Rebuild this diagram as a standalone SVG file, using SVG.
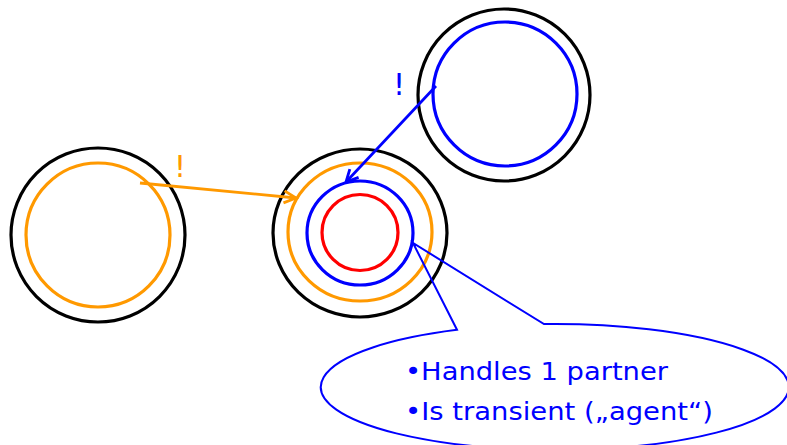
<svg xmlns="http://www.w3.org/2000/svg" width="787" height="445" viewBox="0 0 787 445">
<style>
.c{fill:none;stroke-width:3.2}
.k{stroke:#000}
.o{stroke:#FF9900}
.b{stroke:#0000FF}
.r{stroke:#FF0000}
.t{font-family:"DejaVu Sans",Tahoma,sans-serif;fill:#0000FF}
</style>
<defs>
<marker id="ao" markerWidth="16" markerHeight="16" refX="13" refY="8" orient="auto" markerUnits="userSpaceOnUse"><path d="M1,2 L13,8 L1,14" fill="none" stroke="#FF9900" stroke-width="2.8"/></marker>
<marker id="ab" markerWidth="16" markerHeight="16" refX="13" refY="8" orient="auto" markerUnits="userSpaceOnUse"><path d="M1,2 L13,8 L1,14" fill="none" stroke="#0000FF" stroke-width="2.8"/></marker>
</defs>
<g id="left-node">
<circle class="c k" cx="98" cy="235" r="87"/>
<circle class="c o" cx="98" cy="235" r="72"/>
</g>
<g id="center-node">
<ellipse class="c k" cx="360" cy="233" rx="87" ry="84"/>
<ellipse class="c o" cx="360" cy="232" rx="72" ry="69"/>
<ellipse class="c b" cx="360" cy="233" rx="53" ry="52"/>
<circle class="c r" cx="360" cy="232.5" r="38"/>
</g>
<g id="top-node">
<ellipse class="c k" cx="504" cy="95" rx="86" ry="86"/>
<ellipse class="c b" cx="505" cy="94" rx="72" ry="72"/>
</g>
<g id="connectors">
<line x1="140" y1="183" x2="296" y2="198" stroke="#FF9900" stroke-width="2.8" marker-end="url(#ao)"/>
<line x1="436" y1="86" x2="346" y2="182" stroke="#0000FF" stroke-width="2.8" marker-end="url(#ab)"/>
<text x="180" y="177" class="t" style="fill:#FF9900" font-size="30" text-anchor="middle">!</text>
<text x="399" y="95" class="t" font-size="30" text-anchor="middle">!</text>
</g>
<g id="callout">
<path d="M544,324.1 A234,63 0 1 1 457,329.8 L413,243 Z" fill="none" stroke="#0000FF" stroke-width="2"/>
<text class="t" font-size="25" x="405" y="380" textLength="263" lengthAdjust="spacingAndGlyphs">•Handles 1 partner</text>
<text class="t" font-size="25" x="405" y="420" textLength="308" lengthAdjust="spacingAndGlyphs">•Is transient („agent“)</text>
</g>
</svg>
